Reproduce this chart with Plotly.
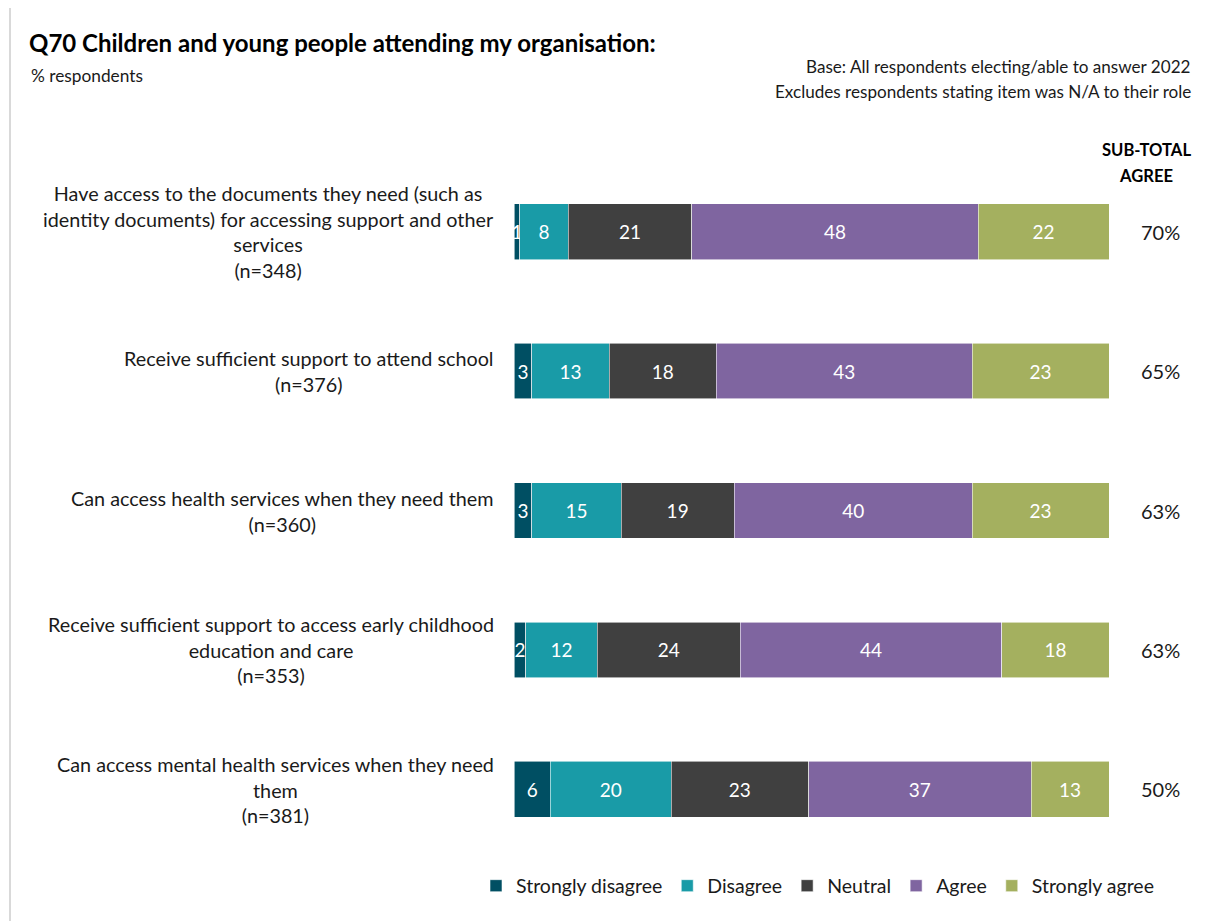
import plotly.graph_objects as go

categories = [
    "Have access to the documents they need (such as<br>identity documents) for accessing support and other<br>services<br>(n=348)",
    "Receive sufficient support to attend school<br>(n=376)",
    "Can access health services when they need them<br>(n=360)",
    "Receive sufficient support to access early childhood<br>education and care<br>(n=353)",
    "Can access mental health services when they need<br>them<br>(n=381)",
]
series_names = ["Strongly disagree", "Disagree", "Neutral", "Agree", "Strongly agree"]
strongly_disagree = [1.0, 3.0, 3.0, 2.0, 6.1]
disagree = [8.1, 13.0, 15.0, 12.0, 20.3]
neutral = [20.8, 18.0, 19.0, 24.0, 23.1]
agree = [48.1, 43.0, 40.0, 44.0, 37.4]
strongly_agree = [22.0, 23.0, 23.0, 18.0, 13.1]
subtotal_agree = ["70%", "65%", "63%", "63%", "50%"]
colors = ["#004F63", "#199BA7", "#404040", "#7F65A0", "#A4B05F"]

OFF = 8  # page body margin
W, H = 1208 - OFF, 921 - OFF
L, R, T, B = 514 - OFF, 99, 162 - OFF, 62
PW, PH = W - L - R, H - T - B
FONT = "Lato"


def px(x):
    return (x - OFF - L) / PW


def py(y):
    return (H - B - (y - OFF)) / PH


fig = go.Figure()
for name, vals, col in zip(series_names,
                           [strongly_disagree, disagree, neutral, agree, strongly_agree],
                           colors):
    fig.add_trace(go.Bar(
        y=categories, x=vals, name=name, orientation="h",
        marker=dict(color=col, line=dict(color="rgba(255,255,255,0.7)", width=0.8)),
        text=[f"{v:.0f}" for v in vals], textposition="inside",
        insidetextanchor="middle", constraintext="none",
        textfont=dict(color="white", size=19, family=FONT),
        width=0.4, hoverinfo="skip",
    ))

ann = []
for cat, st in zip(categories, subtotal_agree):
    ann.append(dict(xref="paper", yref="y", x=px(496), y=cat, text=cat,
                    xanchor="right", yanchor="middle", align="center", showarrow=False,
                    font=dict(size=19.8, color="#1a1a1a", family=FONT)))
    ann.append(dict(xref="paper", yref="y", x=px(1160), y=cat, text=st,
                    xanchor="center", yanchor="middle", showarrow=False,
                    font=dict(size=20, color="#1a1a1a", family=FONT)))

ann += [
    dict(xref="paper", yref="paper", x=px(27), y=py(42), text="<b>Q70 Children and young people attending my organisation:</b>",
         xanchor="left", yanchor="middle", showarrow=False, font=dict(size=24, color="#000", family=FONT)),
    dict(xref="paper", yref="paper", x=px(29), y=py(75), text="% respondents",
         xanchor="left", yanchor="middle", showarrow=False, font=dict(size=17.3, color="#1a1a1a", family=FONT)),
    dict(xref="paper", yref="paper", x=px(1193), y=py(66), text="Base: All respondents electing/able to answer 2022",
         xanchor="right", yanchor="middle", showarrow=False, font=dict(size=17.1, color="#1a1a1a", family=FONT)),
    dict(xref="paper", yref="paper", x=px(1193), y=py(91), text="Excludes respondents stating item was N/A to their role",
         xanchor="right", yanchor="middle", showarrow=False, font=dict(size=17.1, color="#1a1a1a", family=FONT)),
    dict(xref="paper", yref="paper", x=px(1146), y=py(150), text="<b>SUB-TOTAL</b>",
         xanchor="center", yanchor="middle", showarrow=False, font=dict(size=16.6, color="#000", family=FONT)),
    dict(xref="paper", yref="paper", x=px(1146), y=py(176), text="<b>AGREE</b>",
         xanchor="center", yanchor="middle", showarrow=False, font=dict(size=16.6, color="#000", family=FONT)),
]

fig.update_layout(
    width=W, height=H, barmode="stack",
    margin=dict(l=L, r=R, t=T, b=B, autoexpand=False),
    paper_bgcolor="white", plot_bgcolor="white",
    font=dict(family=FONT, size=18, color="#1a1a1a"),
    xaxis=dict(range=[0, 100], showticklabels=False, showgrid=False, zeroline=False, fixedrange=True),
    yaxis=dict(categoryorder="array", categoryarray=categories, range=[4.5, -0.5],
               showticklabels=False, showgrid=False, zeroline=False),
    uniformtext=dict(minsize=19, mode="show"),
    showlegend=True,
    legend=dict(orientation="h", x=px(476), y=py(886), xanchor="left", yanchor="middle",
                font=dict(size=19.5, color="#1a1a1a", family=FONT), traceorder="normal",
                itemwidth=30, tracegroupgap=0, bgcolor="rgba(0,0,0,0)"),
    annotations=ann,
    shapes=[dict(type="line", xref="paper", yref="paper", x0=px(10), x1=px(10), y0=py(8), y1=py(921),
                 line=dict(color="#d9d9d9", width=2))],
)

fig.write_html("out.html")
